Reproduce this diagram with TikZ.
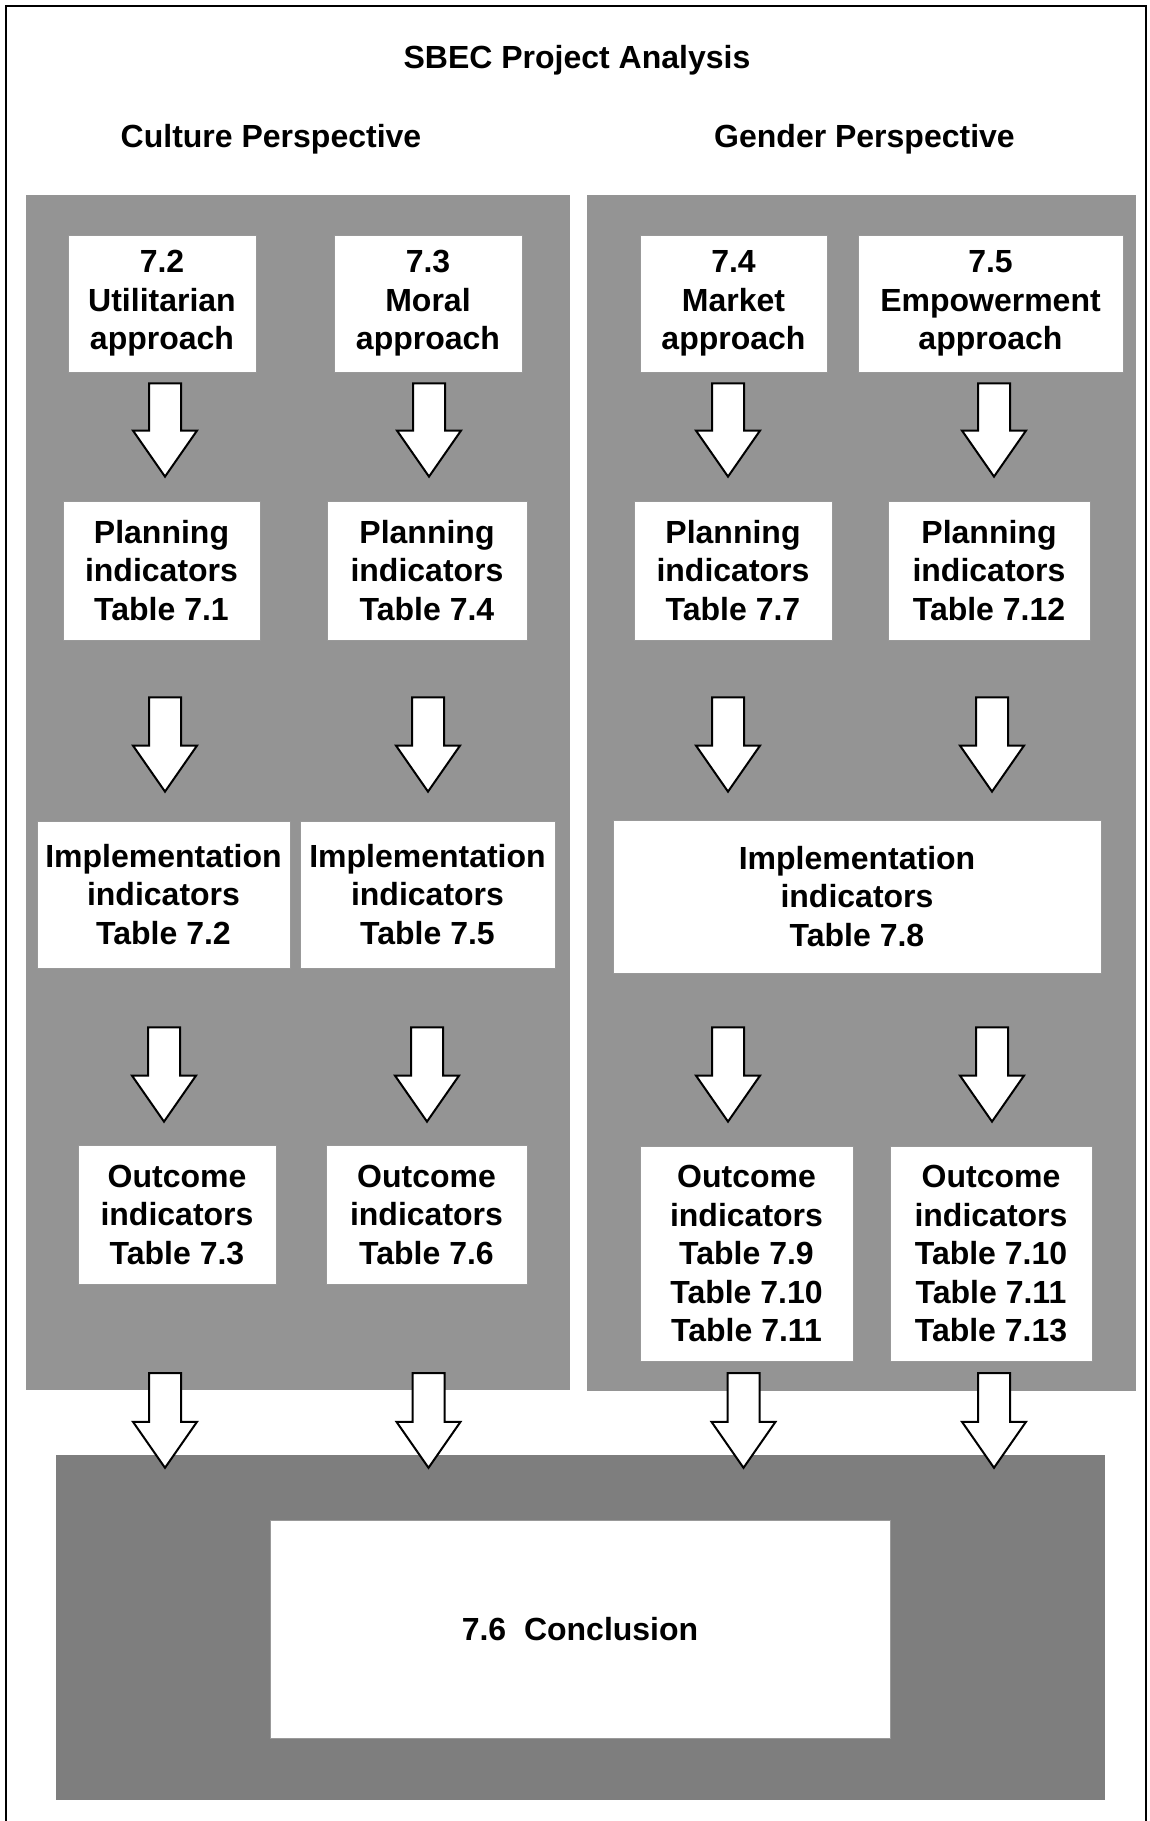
\documentclass[tikz,border=0pt]{standalone}
\usepackage{fontspec}
\setmainfont{Liberation Sans}
\usetikzlibrary{calc}
\definecolor{panelgray}{RGB}{148,148,148}
\definecolor{basegray}{RGB}{126,126,126}
\begin{document}
\begin{tikzpicture}[x=1pt,y=-1pt,
  txt/.style={font=\fontsize{32}{38.5}\selectfont\bfseries, align=center, inner sep=0pt},
  card/.style={txt, fill=white, draw=black!40, line width=0.8pt},
  panel/.style={fill=#1, inner sep=0pt},
  blockarr/.style={draw=black, line width=2pt, fill=white, line join=miter,
    to path={let \p1=(\tikztostart), \p2=(\tikztotarget) in
      ({\x1-16pt},{\y1}) -- ({\x1+16pt},{\y1}) -- ({\x1+16pt},{\y2+46pt})
      -- ({\x1+32pt},{\y2+46pt}) -- ({\x1},{\y2}) -- ({\x1-32pt},{\y2+46pt})
      -- ({\x1-16pt},{\y2+46pt}) -- cycle}}
]
\useasboundingbox (0,0) rectangle (1149,1821);

% page frame, open at the bottom
\draw[line width=2pt] (6,1821) -- (6,6) -- (1146,6) -- (1146,1821);

% headings
\node[txt, anchor=base] (title) at (577,68) {SBEC Project Analysis};
\node[txt, anchor=base] (culture) at (271,147) {Culture Perspective};
\node[txt, anchor=base] (gender) at (864.5,147) {Gender Perspective};

% shaded backgrounds
\node[panel=panelgray, minimum width=544pt, minimum height=1195pt] (lpanel) at (298,792.5) {};
\node[panel=panelgray, minimum width=549pt, minimum height=1196pt] (rpanel) at (861.5,793) {};
\node[panel=basegray, minimum width=1049pt, minimum height=345pt] (bpanel) at (580.5,1627.5) {};

% approaches
\node[card, minimum width=188pt, minimum height=137pt] (u1) at (162,303.5) {7.2\\Utilitarian\\approach};
\node[card, minimum width=188pt, minimum height=137pt] (u2) at (428,303.5) {7.3\\Moral\\approach};
\node[card, minimum width=187pt, minimum height=137pt] (u3) at (733.5,303.5) {7.4\\Market\\approach};
\node[card, minimum width=265pt, minimum height=137pt] (u4) at (990.5,303.5) {7.5\\Empowerment\\approach};

% planning indicators
\node[card, minimum width=197pt, minimum height=139pt] (p1) at (161.5,570.5) {Planning\\indicators\\Table 7.1};
\node[card, minimum width=200pt, minimum height=139pt] (p2) at (427,570.5) {Planning\\indicators\\Table 7.4};
\node[card, minimum width=198pt, minimum height=139pt] (p3) at (733,570.5) {Planning\\indicators\\Table 7.7};
\node[card, minimum width=202pt, minimum height=139pt] (p4) at (989,570.5) {Planning\\indicators\\Table 7.12};

% implementation indicators
\node[card, minimum width=253pt, minimum height=147pt] (i1) at (163.5,894.5) {Implementation\\indicators\\Table 7.2};
\node[card, minimum width=255pt, minimum height=147pt] (i2) at (427.5,894.5) {Implementation\\indicators\\Table 7.5};
\node[card, minimum width=488pt, minimum height=153pt] (i3) at (857,896.5) {Implementation\\indicators\\Table 7.8};

% outcome indicators
\node[card, minimum width=198pt, minimum height=139pt] (o1) at (177,1214.5) {Outcome\\indicators\\Table 7.3};
\node[card, minimum width=201pt, minimum height=139pt] (o2) at (426.5,1214.5) {Outcome\\indicators\\Table 7.6};
\node[card, minimum width=213pt, minimum height=215pt] (o3) at (746.5,1253.5) {Outcome\\indicators\\Table 7.9\\Table 7.10\\Table 7.11};
\node[card, minimum width=202pt, minimum height=215pt] (o4) at (991,1253.5) {Outcome\\indicators\\Table 7.10\\Table 7.11\\Table 7.13};

% conclusion
\node[card, minimum width=620pt, minimum height=218pt] (concl) at (580,1629) {7.6\ \ Conclusion};

% approach -> planning
\draw[blockarr] ($(u1.south)+(3,11)$) to ($(p1.north)+(0,-24)$);
\draw[blockarr] ($(u2.south)+(1,11)$) to ($(p2.north)+(0,-24)$);
\draw[blockarr] ($(u3.south)+(-5.5,11)$) to ($(p3.north)+(0,-24)$);
\draw[blockarr] ($(u4.south)+(3.5,11)$) to ($(p4.north)+(0,-24)$);

% planning -> implementation
\draw[blockarr] ($(p1.south)+(3.5,57)$) to ($(i1.north)+(0,-29)$);
\draw[blockarr] ($(p2.south)+(1,57)$) to ($(i2.north)+(0,-29)$);
\draw[blockarr] ($(p3.south)+(-5,57)$) to ($(i3.north)+(0,-28)$);
\draw[blockarr] ($(p4.south)+(3,57)$) to ($(i3.north)+(0,-28)$);

% implementation -> outcome
\draw[blockarr] ($(i1.south)+(0.5,59)$) to ($(o1.north)+(0,-23)$);
\draw[blockarr] ($(i2.south)+(-0.5,59)$) to ($(o2.north)+(0,-23)$);
\draw[blockarr] ($(i3.south)+(-129,54)$) to ($(o3.north)+(0,-24)$);
\draw[blockarr] ($(i3.south)+(135,54)$) to ($(o4.north)+(0,-24)$);

% outcome -> conclusion
\draw[blockarr] ($(o1.south |- lpanel.south)+(-12,-17)$) to ($(o1.south |- bpanel.north)+(0,13)$);
\draw[blockarr] ($(o2.south |- lpanel.south)+(2,-17)$) to ($(o2.south |- bpanel.north)+(0,13)$);
\draw[blockarr] ($(o3.south |- rpanel.south)+(-3,-18)$) to ($(o3.south |- bpanel.north)+(0,13)$);
\draw[blockarr] ($(o4.south |- rpanel.south)+(3,-18)$) to ($(o4.south |- bpanel.north)+(0,13)$);
\end{tikzpicture}
\end{document}
